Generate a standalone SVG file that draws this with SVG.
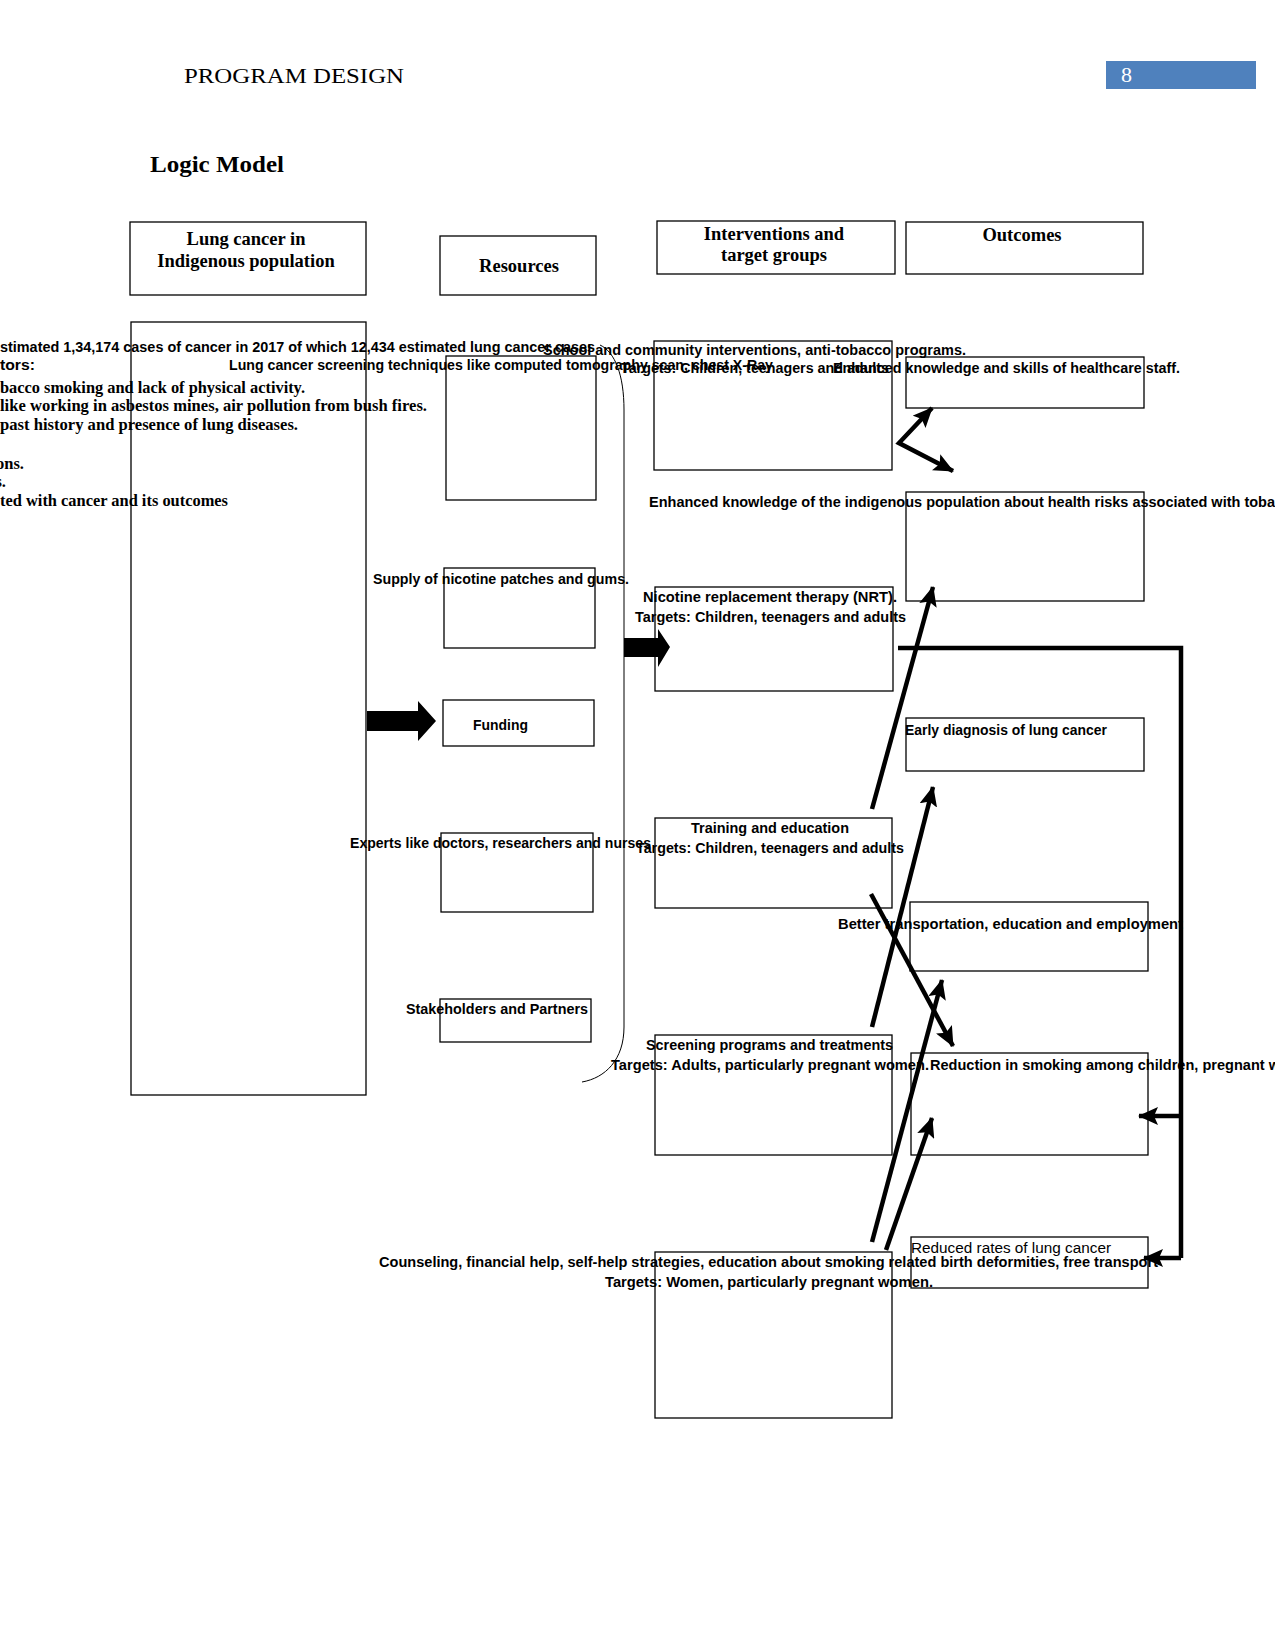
<svg xmlns="http://www.w3.org/2000/svg" width="1275" height="1650" viewBox="0 0 1275 1650">
<style>
.bx{fill:none;stroke:#000;stroke-width:1.3}
.s{font-family:"Liberation Sans",Arial,sans-serif;font-weight:bold;font-size:15.5px;fill:#000}
.sn{font-family:"Liberation Sans",Arial,sans-serif;font-size:15.5px;fill:#000}
.r{font-family:"Liberation Serif","Times New Roman",serif;font-weight:bold;font-size:16.5px;fill:#000}
.h{font-family:"Liberation Serif","Times New Roman",serif;font-weight:bold;font-size:18.5px;fill:#000;text-anchor:middle}
.ln{fill:none;stroke:#000;stroke-width:4.5}
</style>
<defs>
<marker id="ah" markerUnits="userSpaceOnUse" viewBox="0 0 20 18" refX="19" refY="9" markerWidth="20" markerHeight="18" orient="auto-start-reverse">
<path d="M0,0 L20,9 L0,18 L4,9 z" fill="#000"/>
</marker>
</defs>
<rect width="1275" height="1650" fill="#fff"/>
<g id="page-header">
<text x="184" y="83" font-family="Liberation Serif,'Times New Roman',serif" font-size="22" textLength="220" lengthAdjust="spacingAndGlyphs">PROGRAM DESIGN</text>
<rect x="1106" y="61" width="150" height="28" fill="#4f81bd"/>
<text x="1121" y="82" font-family="Liberation Serif,'Times New Roman',serif" font-size="22" fill="#fff">8</text>
<text x="150" y="172" font-family="Liberation Serif,'Times New Roman',serif" font-size="24" font-weight="bold" textLength="134" lengthAdjust="spacingAndGlyphs">Logic Model</text>
</g>
<g id="hdr-lung">
<rect class="bx" x="130" y="222" width="236" height="73"/>
<text class="h" x="246" y="245">Lung cancer in</text>
<text class="h" x="246" y="267">Indigenous population</text>
</g>
<g id="hdr-resources">
<rect class="bx" x="440" y="236" width="156" height="59"/>
<text class="h" x="519" y="272">Resources</text>
</g>
<g id="hdr-interventions">
<rect class="bx" x="657" y="221" width="238" height="53"/>
<text class="h" x="774" y="240">Interventions and</text>
<text class="h" x="774" y="261">target groups</text>
</g>
<g id="hdr-outcomes">
<rect class="bx" x="906" y="222" width="237" height="52"/>
<text class="h" x="1022" y="241">Outcomes</text>
</g>
<g id="lung-details">
<rect class="bx" x="131" y="322" width="235" height="773"/>
<text class="s" x="0" y="352" textLength="595" lengthAdjust="spacingAndGlyphs">stimated 1,34,174 cases of cancer in 2017 of which 12,434 estimated lung cancer cases</text>
<text class="s" x="0" y="370" textLength="35" lengthAdjust="spacingAndGlyphs">tors:</text>
<text class="r" x="0" y="393" textLength="305" lengthAdjust="spacingAndGlyphs">bacco smoking and lack of physical activity.</text>
<text class="r" x="0" y="411" textLength="427" lengthAdjust="spacingAndGlyphs">like working in asbestos mines, air pollution from bush fires.</text>
<text class="r" x="0" y="430" textLength="298" lengthAdjust="spacingAndGlyphs">past history and presence of lung diseases.</text>
<text class="r" x="24" y="469" text-anchor="end">ons.</text>
<text class="r" x="6" y="487" text-anchor="end">s.</text>
<text class="r" x="0" y="506" textLength="228" lengthAdjust="spacingAndGlyphs">ted with cancer and its outcomes</text>
</g>
<g id="res-screening">
<rect class="bx" x="446" y="356" width="150" height="144"/>
<text class="s" x="229" y="370" textLength="544" lengthAdjust="spacingAndGlyphs">Lung cancer screening techniques like computed tomography scan, chest X-Ray</text>
</g>
<g id="res-supply">
<rect class="bx" x="444" y="568" width="151" height="80"/>
<text class="s" x="373" y="584" textLength="256" lengthAdjust="spacingAndGlyphs">Supply of nicotine patches and gums.</text>
</g>
<g id="res-funding">
<rect class="bx" x="443" y="700" width="151" height="46"/>
<text class="s" x="473" y="730" textLength="55" lengthAdjust="spacingAndGlyphs">Funding</text>
</g>
<g id="res-experts">
<rect class="bx" x="441" y="833" width="152" height="79"/>
<text class="s" x="350" y="848" textLength="301" lengthAdjust="spacingAndGlyphs">Experts like doctors, researchers and nurses</text>
</g>
<g id="res-stakeholders">
<rect class="bx" x="440" y="999" width="151" height="43"/>
<text class="s" x="406" y="1014" textLength="182" lengthAdjust="spacingAndGlyphs">Stakeholders and Partners</text>
</g>
<g id="int-school">
<rect class="bx" x="654" y="341" width="238" height="129"/>
<text class="s" x="543" y="355" textLength="423" lengthAdjust="spacingAndGlyphs">School and community interventions, anti-tobacco programs.</text>
<text class="s" x="621" y="373" textLength="268" lengthAdjust="spacingAndGlyphs">Targets: Children, teenagers and adults</text>
</g>
<g id="int-nrt">
<rect class="bx" x="655" y="587" width="238" height="104"/>
<text class="s" x="643" y="602" textLength="254" lengthAdjust="spacingAndGlyphs">Nicotine replacement therapy (NRT).</text>
<text class="s" x="635" y="622" textLength="271" lengthAdjust="spacingAndGlyphs">Targets: Children, teenagers and adults</text>
</g>
<g id="int-training">
<rect class="bx" x="655" y="818" width="237" height="90"/>
<text class="s" x="691" y="833" textLength="158" lengthAdjust="spacingAndGlyphs">Training and education</text>
<text class="s" x="636" y="853" textLength="268" lengthAdjust="spacingAndGlyphs">Targets: Children, teenagers and adults</text>
</g>
<g id="int-screening">
<rect class="bx" x="655" y="1035" width="237" height="120"/>
<text class="s" x="646" y="1050" textLength="247" lengthAdjust="spacingAndGlyphs">Screening programs and treatments</text>
<text class="s" x="611" y="1070" textLength="318" lengthAdjust="spacingAndGlyphs">Targets: Adults, particularly pregnant women.</text>
</g>
<g id="int-counseling">
<rect class="bx" x="655" y="1252" width="237" height="166"/>
<text class="s" x="379" y="1267" textLength="779" lengthAdjust="spacingAndGlyphs">Counseling, financial help, self-help strategies, education about smoking related birth deformities, free transport</text>
<text class="s" x="605" y="1287" textLength="328" lengthAdjust="spacingAndGlyphs">Targets: Women, particularly pregnant women.</text>
</g>
<g id="out-staff">
<rect class="bx" x="906" y="357" width="238" height="51"/>
<text class="s" x="833" y="373" textLength="347" lengthAdjust="spacingAndGlyphs">Enhanced knowledge and skills of healthcare staff.</text>
</g>
<g id="out-population">
<rect class="bx" x="906" y="492" width="238" height="109"/>
<text class="s" x="649" y="507" textLength="626" lengthAdjust="spacingAndGlyphs">Enhanced knowledge of the indigenous population about health risks associated with toba</text>
</g>
<g id="out-early">
<rect class="bx" x="906" y="718" width="238" height="53"/>
<text class="s" x="905" y="735" textLength="202" lengthAdjust="spacingAndGlyphs">Early diagnosis of lung cancer</text>
</g>
<g id="out-better">
<rect class="bx" x="910" y="902" width="238" height="69"/>
<text class="s" x="838" y="929" textLength="345" lengthAdjust="spacingAndGlyphs">Better transportation, education and employment</text>
</g>
<g id="out-reduction">
<rect class="bx" x="911" y="1053" width="237" height="102"/>
<text class="s" x="930" y="1070" textLength="350" lengthAdjust="spacingAndGlyphs">Reduction in smoking among children, pregnant w</text>
</g>
<g id="out-reduced">
<rect class="bx" x="911" y="1237" width="237" height="51"/>
<text class="sn" x="911" y="1253" textLength="200" lengthAdjust="spacingAndGlyphs">Reduced rates of lung cancer</text>
</g>
<g id="connectors">
<path d="M600,345 C615,352 624,375 624,410 L624,1027 C624,1060 605,1078 582,1082" fill="none" stroke="#000" stroke-width="1"/>
<polygon points="367,711 418,711 418,701 436,721 418,741 418,731 367,731" fill="#000"/>
<polygon points="624,638 658,638 658,629 670,647 658,667 658,657 624,657" fill="#000"/>
<polyline class="ln" points="932,408 899,443 953,471" marker-start="url(#ah)" marker-end="url(#ah)"/>
<line class="ln" x1="872" y1="809" x2="933" y2="587" marker-end="url(#ah)"/>
<line class="ln" x1="872" y1="1027" x2="933" y2="787" marker-end="url(#ah)"/>
<line class="ln" x1="871" y1="894" x2="953" y2="1046" marker-end="url(#ah)"/>
<line class="ln" x1="872" y1="1242" x2="942" y2="980" marker-end="url(#ah)"/>
<line class="ln" x1="886" y1="1250" x2="932" y2="1118" marker-end="url(#ah)"/>
<polyline class="ln" points="898,648 1181,648 1181,1258"/>
<line class="ln" x1="1181" y1="1116" x2="1139" y2="1116" marker-end="url(#ah)"/>
<line class="ln" x1="1181" y1="1258" x2="1144" y2="1258" marker-end="url(#ah)"/>
</g>
</svg>
